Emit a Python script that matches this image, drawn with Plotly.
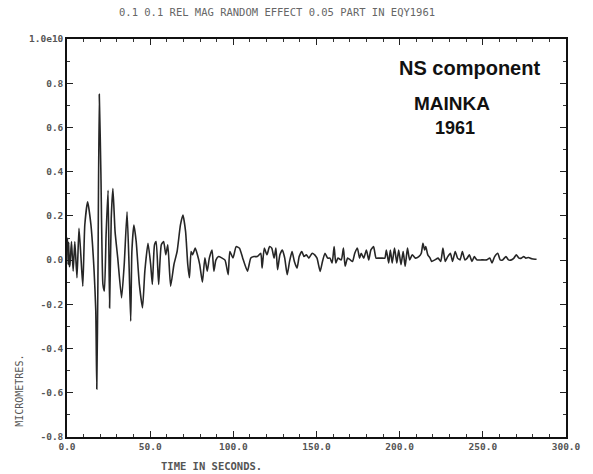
import plotly.graph_objects as go

# Ground displacement record (turning points of the trace), seconds vs. micrometres
time_s = [
    0.0, 0.3, 0.7, 1.0, 1.4, 1.75, 2.7, 3.7, 4.7, 6.0, 7.2, 8.3, 9.5, 10.7, 12.4,
    14.4, 16.3, 17.3, 17.9, 18.6, 19.4, 20.4, 21.6, 22.5, 23.5, 24.7, 25.6, 26.6,
    27.6, 28.9, 30.5, 32.8, 34.4, 36.1, 37.3, 38.3, 39.0, 40.2, 41.6, 43.5, 45.4,
    46.8, 48.7, 50.3, 51.3, 52.6, 53.6, 55.1, 56.7, 58.1, 59.4, 60.6, 62.3, 64.3,
    66.2, 68.2, 69.7, 71.3, 72.6, 73.6, 74.6, 75.5, 77.1, 78.4, 79.8, 81.4, 82.9,
    84.3, 85.6, 87.2, 88.3, 89.5, 91.1, 93.0, 95.0, 96.9, 97.9, 99.8, 101.7, 103.7,
    105.6, 108.5, 110.5, 112.4,
    114.4, 116.5, 117.3, 118.6, 120.2, 121.8, 123.1, 124.5, 125.6, 126.6, 128.0,
    129.5, 130.9, 132.4, 133.8, 135.3, 136.7, 138.3, 139.6, 141.2, 142.5, 143.9,
    145.4, 147.4, 148.9, 150.3, 152.2, 153.6, 155.1, 156.7, 158.1, 159.4, 160.6,
    161.6, 162.9, 164.9, 166.2, 167.2, 168.7, 170.3, 171.7, 173.0, 174.6, 175.9,
    176.9, 178.4, 180.0, 181.4, 182.7, 184.3, 185.8, 187.2, 189.1, 191.1, 192.0,
    193.4, 194.4, 195.5, 196.9, 198.3, 199.4, 200.8, 202.1, 203.3, 204.7, 206.0,
    207.6, 209.5, 211.5, 213.0, 214.0, 215.0, 215.7, 216.9, 218.3, 219.2, 221.2,
    223.1, 224.7, 226.0, 227.4, 228.9, 230.5, 231.8, 233.4, 234.8, 236.3, 237.7,
    239.2, 240.6, 241.9, 243.5, 244.9, 246.4, 249.3, 252.2, 254.2, 255.5, 257.1,
    259.0, 260.4, 261.9, 263.9, 265.4, 267.2, 268.7, 270.1, 271.7, 273.2, 274.6,
    275.9, 277.5, 279.4, 281.4, 282.3,
]
displacement = [
    0.05, 0.10, -0.02, 0.08, -0.03, -0.02, 0.084, -0.05, 0.084, -0.08, 0.144, 0.024,
    -0.118, 0.159, 0.264, 0.159, -0.05, -0.23, -0.583, -0.08, 0.75, 0.384, -0.11,
    -0.14, 0.114, 0.316, -0.216, 0.189, 0.324, 0.129, 0.01, -0.171, -0.02, 0.219,
    -0.02, -0.276, 0.039, 0.159, 0.084, -0.11, -0.216, -0.05, 0.076, -0.02, -0.11,
    0.069, 0.084, -0.11, 0.069, 0.084, 0.024, 0.069, -0.118, -0.02, 0.039, 0.159,
    0.204, 0.129, -0.02, -0.08, 0.039, 0.024, 0.054, 0.024, -0.02, -0.10, 0.01,
    -0.05, 0.01, 0.046, -0.05, 0.0, 0.016, 0.01, 0.0, -0.066, 0.039, 0.01, 0.061,
    0.054, 0.01, -0.05, 0.01, 0.016,
    0.016, 0.031, -0.036, 0.054, 0.024, 0.061, 0.054, 0.009, 0.054, -0.043, 0.024,
    0.046, 0.009, -0.066, -0.006, 0.039, -0.006, -0.036, 0.016, 0.039, 0.016, 0.024,
    0.009, 0.031, 0.024, 0.009, -0.051, -0.006, 0.031, 0.009, 0.009, -0.013, 0.061,
    -0.013, 0.009, 0.001, 0.054, -0.028, 0.009, 0.001, -0.006, 0.031, 0.054, 0.009,
    0.031, 0.009, 0.046, 0.001, 0.046, 0.061, 0.009, 0.009, 0.009, 0.009, 0.046,
    -0.013, 0.046, -0.013, 0.054, -0.013, 0.046, -0.021, 0.039, -0.028, 0.054, 0.001,
    0.024, 0.009, 0.016, 0.031, 0.076, 0.046, 0.061, 0.024, 0.009, -0.006, 0.001,
    0.009, -0.006, 0.054, -0.006, 0.016, 0.031, -0.006, 0.039, 0.009, 0.001, 0.039,
    0.001, 0.009, 0.024, -0.006, 0.016, 0.001, 0.001, 0.001, 0.009, -0.013, 0.016,
    0.031, 0.001, 0.001, 0.016, 0.001, 0.001, 0.009, 0.024, 0.009, 0.009, 0.016,
    0.009, 0.012, 0.006, 0.004, 0.004,
]

x_ticks = [0, 50, 100, 150, 200, 250, 300]
x_tick_text = ["0.0", "50.0", "100.0", "150.0", "200.0", "250.0", "300.0"]
y_ticks = [-0.8, -0.6, -0.4, -0.2, 0.0, 0.2, 0.4, 0.6, 0.8, 1.0]
y_tick_text = ["-0.8", "-0.6", "-0.4", "-0.2", "0.0", "0.2", "0.4", "0.6", "0.8", "1.0e10"]

mono = "DejaVu Sans Mono"
tick_font = dict(family=mono, size=9.5, color="#555555", weight="bold")

fig = go.Figure()
fig.add_trace(go.Scatter(
    x=time_s, y=displacement, mode="lines",
    line=dict(color="#262626", width=1.6, shape="spline", smoothing=0.5),
    showlegend=False, hoverinfo="skip",
))

axis_common = dict(
    showline=True, linecolor="#111111", linewidth=1.5, mirror="ticks",
    ticks="inside", ticklen=6, tickwidth=1.3, tickcolor="#222222",
    showgrid=False, zeroline=False, tickfont=tick_font,
    ticklabeloverflow="allow",
)
fig.update_xaxes(range=[0, 300], tickvals=x_ticks, ticktext=x_tick_text,
                 minor=dict(ticks="inside", ticklen=3, dtick=10, tickcolor="#333333"),
                 **axis_common)
fig.update_yaxes(range=[-0.8, 1.0], tickvals=y_ticks, ticktext=y_tick_text,
                 minor=dict(ticks="inside", ticklen=3, dtick=0.1, tickcolor="#333333"),
                 **axis_common)


def label(text, x, y, font, angle=0):
    return dict(text=text, xref="paper", yref="paper", x=x, y=y,
                xanchor="center", yanchor="middle", showarrow=False,
                textangle=angle, font=font)


fig.update_layout(
    width=593, height=474,
    margin=dict(l=67, r=13, t=39, b=37),
    paper_bgcolor="white", plot_bgcolor="white",
    annotations=[
        label("0.1 0.1 REL MAG RANDOM EFFECT 0.05 PART IN EQY1961", 0.42, 1.068,
              dict(family=mono, size=10.5, color="#666666")),
        label("MICROMETRES.", -0.095, 0.115,
              dict(family=mono, size=10, color="#555555"), angle=-90),
        label("TIME IN SECONDS.", 0.289, -0.072,
              dict(family=mono, size=10.5, color="#555555", weight="bold")),
        label("<b>NS component</b>", 0.806, 0.927,
              dict(family="Liberation Sans", size=20, color="#111111")),
        label("<b>MAINKA</b>", 0.771, 0.839,
              dict(family="Liberation Sans", size=19, color="#111111")),
        label("<b>1961</b>", 0.777, 0.776,
              dict(family="Liberation Sans", size=18, color="#111111")),
    ],
)

fig.write_html("out.html")
